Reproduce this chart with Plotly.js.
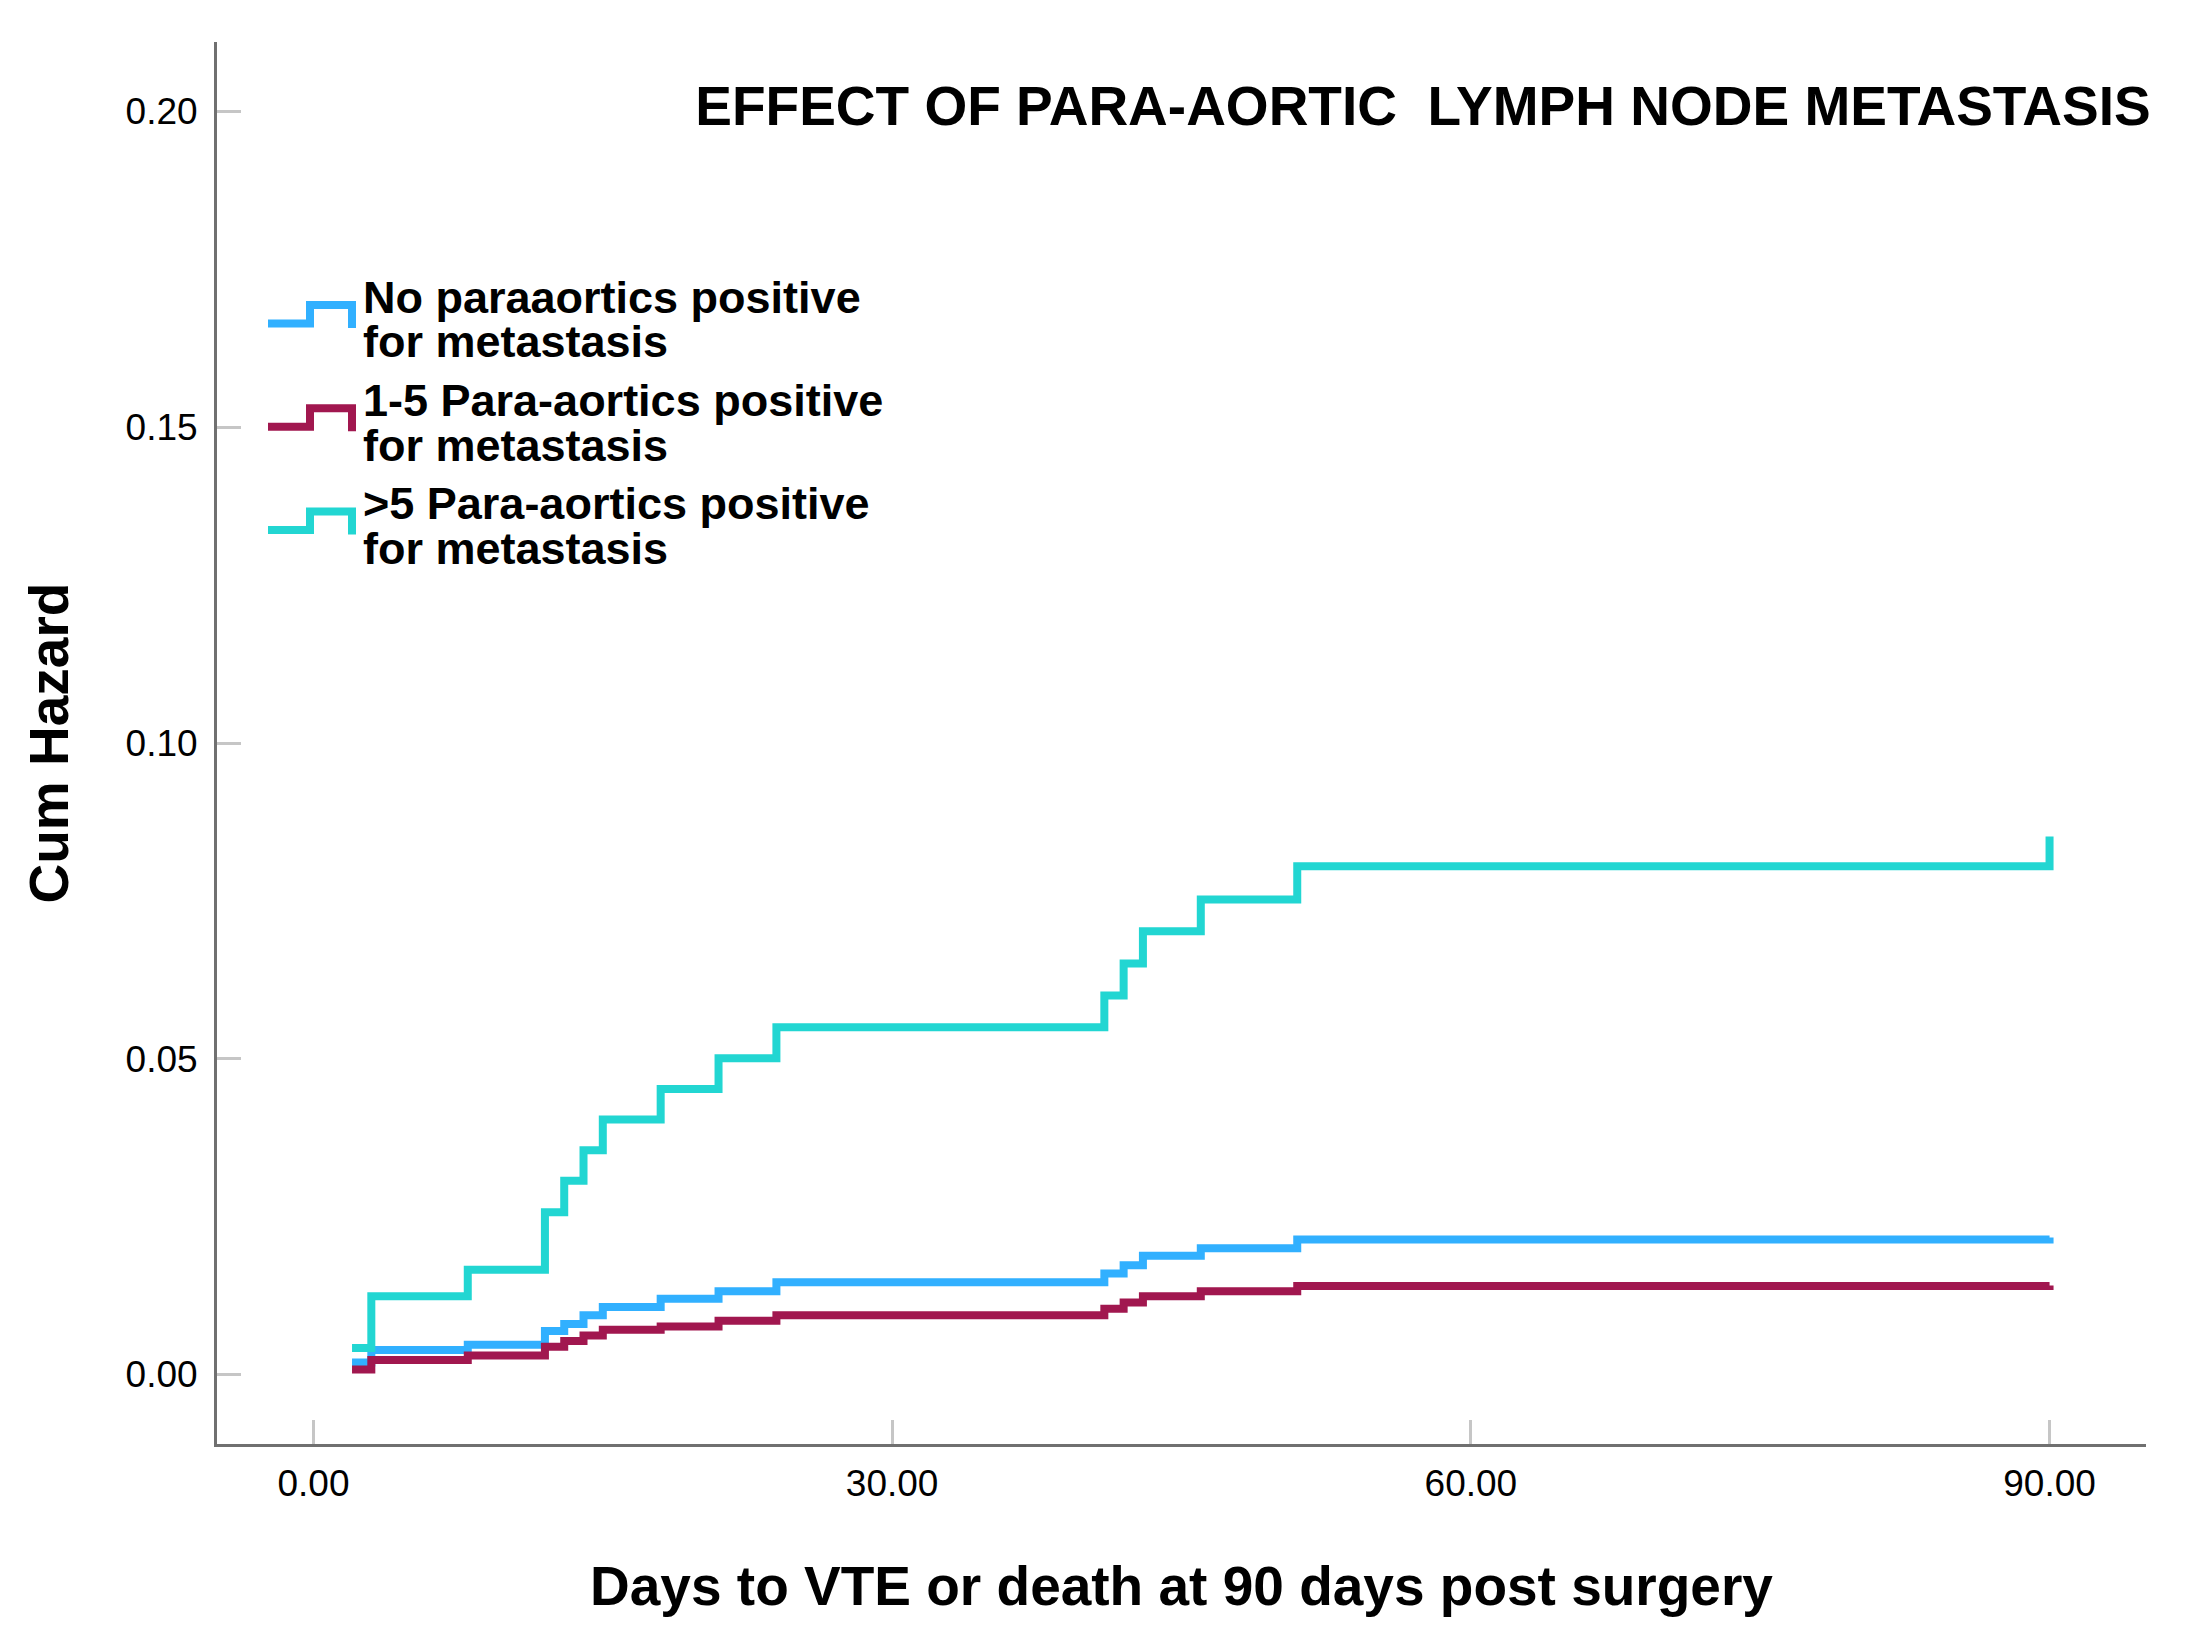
<!DOCTYPE html>
<html>
<head>
<meta charset="utf-8">
<script src="https://cdn.plot.ly/plotly-3.0.1.min.js"></script>
<style>
  html, body { margin: 0; padding: 0; background: #fff; }
  #chart { width: 2190px; height: 1644px; }
</style>
</head>
<body>
<div id="chart"></div>
<script>
/* ---------- data ---------- */
const days = [2, 3, 8, 12, 13, 14, 15, 18, 21, 24, 41, 42, 43, 46, 51, 90];

// No paraaortics positive
const hazNone = [0.0019, 0.0039, 0.0047, 0.0069, 0.0080, 0.0094, 0.0107, 0.0120,
                 0.0132, 0.0146, 0.0160, 0.0173, 0.0188, 0.0200, 0.0214, 0.0217];
// 1-5 para-aortics positive
const hazOneToFive = [0.0008, 0.0023, 0.0030, 0.0044, 0.0053, 0.0062, 0.0071, 0.0076,
                      0.0085, 0.0094, 0.0104, 0.0114, 0.0124, 0.0132, 0.0140, 0.0141];
// >5 para-aortics positive
const hazOverFive = [0.0042, 0.0124, 0.0166, 0.0257, 0.0307, 0.0355, 0.0404, 0.0452,
                     0.0501, 0.0550, 0.0600, 0.0651, 0.0702, 0.0752, 0.0805, 0.0852];

const groupNames = [
  ["No paraaortics positive", "for metastasis"],
  ["1-5 Para-aortics positive", "for metastasis"],
  [">5 Para-aortics positive", "for metastasis"]
];
const groupColors = ["#31b0ff", "#a1174f", "#22d6d2"];

const xTicks = [0, 30, 60, 90];
const yTicks = [0, 0.05, 0.10, 0.15, 0.20];

/* ---------- plot box (px) ---------- */
const W = 2190, H = 1644;
const L = 217, R = 2146, T = 42, B = 1444;
const px = (x) => (x - L) / (R - L);
const py = (y) => (B - y) / (B - T);

const FONT = "Liberation Sans, Arial, Helvetica, sans-serif";

/* ---------- traces ---------- */
const series = [hazNone, hazOneToFive, hazOverFive];
const traces = series.map((vals, i) => ({
  x: days,
  y: vals,
  type: "scatter",
  mode: "lines",
  line: { shape: "hv", color: groupColors[i], width: 8 },
  name: groupNames[i].join(" "),
  showlegend: false,
  hoverinfo: "skip"
}));

/* ---------- hand-made legend (step icon + two text lines) ---------- */
const shapes = [];
const annotations = [];
groupNames.forEach((lines, k) => {
  const dy = k * 103.3;
  shapes.push({
    type: "path",
    xref: "paper", yref: "paper",
    path: "M " + px(268) + "," + py(323.5 + dy) +
          " L " + px(310) + "," + py(323.5 + dy) +
          " L " + px(310) + "," + py(305 + dy) +
          " L " + px(352) + "," + py(305 + dy) +
          " L " + px(352) + "," + py(328 + dy),
    line: { color: groupColors[k], width: 8 }
  });
  lines.forEach((txt, j) => {
    annotations.push({
      text: txt,
      xref: "paper", yref: "paper",
      x: px(362), y: py(297 + dy + j * 45),
      xanchor: "left", yanchor: "middle",
      showarrow: false, borderpad: 0,
      font: { family: FONT, size: 45, color: "#000", weight: "bold" }
    });
  });
});

/* ---------- layout ---------- */
const layout = {
  width: W,
  height: H,
  paper_bgcolor: "#fff",
  plot_bgcolor: "#fff",
  margin: { l: L, r: W - R, t: T, b: H - B, pad: 0 },
  font: { family: FONT, color: "#000" },
  showlegend: false,
  title: {
    text: "EFFECT OF PARA-AORTIC\u00a0 LYMPH NODE METASTASIS",
    xref: "container", yref: "container",
    x: 1423 / W, xanchor: "center",
    y: 1 - 106 / H, yanchor: "middle",
    font: { family: FONT, size: 55, color: "#000", weight: "bold" }
  },
  xaxis: {
    range: [-5, 95],
    tickvals: xTicks,
    tickformat: ".2f",
    ticks: "inside",
    ticklen: 24,
    tickwidth: 3,
    tickcolor: "#c6c6c6",
    ticklabelstandoff: 5,
    tickfont: { family: FONT, size: 37, color: "#000" },
    showline: true,
    linecolor: "#707070",
    linewidth: 3,
    showgrid: false,
    zeroline: false,
    title: {
      text: "Days to VTE or death at 90 days post surgery",
      standoff: 64,
      font: { family: FONT, size: 55, color: "#000", weight: "bold" }
    }
  },
  yaxis: {
    range: [-0.011, 0.211],
    tickvals: yTicks,
    tickformat: ".2f",
    ticks: "inside",
    ticklen: 24,
    tickwidth: 3,
    tickcolor: "#c6c6c6",
    ticklabelstandoff: 9,
    tickfont: { family: FONT, size: 37, color: "#000" },
    showline: true,
    linecolor: "#707070",
    linewidth: 3,
    showgrid: false,
    zeroline: false,
    title: {
      text: "Cum Hazard",
      standoff: 40,
      font: { family: FONT, size: 55, color: "#000", weight: "bold" }
    }
  },
  shapes: shapes,
  annotations: annotations
};

Plotly.newPlot("chart", traces, layout, { staticPlot: true, displayModeBar: false });
</script>
</body>
</html>
